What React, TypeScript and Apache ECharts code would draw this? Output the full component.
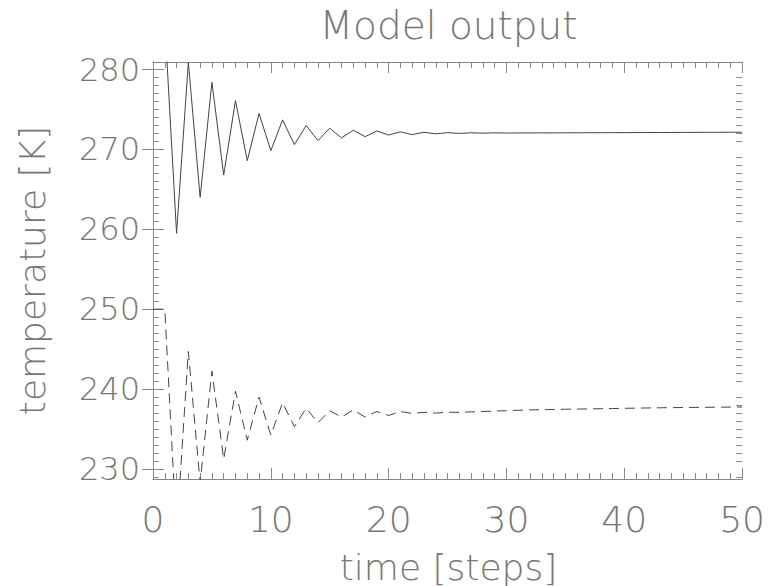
import React, { useEffect, useRef } from "react";
import * as echarts from "echarts";

const steps: number[] = [
  0, 1, 2, 3, 4, 5, 6, 7, 8, 9, 10, 11, 12, 13, 14, 15, 16, 17, 18, 19, 20,
  21, 22, 23, 24, 25, 26, 27, 28, 29, 30, 31, 32, 33, 34, 35, 36, 37, 38, 39, 40,
  41, 42, 43, 44, 45, 46, 47, 48, 49, 50,
];

const surfaceTemp: number[] = [
  290, 286, 259.5, 280.9, 264, 278.4, 266.8, 276.1, 268.6, 274.5, 269.85,
  273.7, 270.6, 273.0, 271.1, 272.65, 271.45, 272.4, 271.6, 272.3, 271.8,
  272.2, 271.85, 272.15, 271.95, 272.1, 272.0, 272.08, 272.03, 272.07, 272.05,
  272.06, 272.06, 272.07, 272.07, 272.08, 272.08, 272.09, 272.09, 272.1, 272.1,
  272.11, 272.11, 272.12, 272.12, 272.13, 272.13, 272.14, 272.14, 272.15, 272.15,
];

const atmosTemp: number[] = [
  250, 250, 222, 244.7, 228.3, 242.25, 231.25, 239.75, 233.6, 239.0, 234.25,
  238.3, 235.3, 237.6, 235.8, 237.3, 236.5, 237.4, 236.5, 237.2, 236.7,
  237.2, 236.95, 237.1, 237.0, 237.1, 237.1, 237.15, 237.2, 237.25, 237.3,
  237.35, 237.4, 237.42, 237.45, 237.48, 237.5, 237.52, 237.55, 237.57, 237.6,
  237.62, 237.64, 237.66, 237.68, 237.7, 237.71, 237.72, 237.74, 237.75, 237.76,
];

const yMajorTicks: number[] = [230, 240, 250, 260, 270, 280];
const yMinorTicks: number[] = [
  229, 231, 232, 233, 234, 235, 236, 237, 238, 239, 241, 242, 243, 244, 245,
  246, 247, 248, 249, 251, 252, 253, 254, 255, 256, 257, 258, 259, 261, 262,
  263, 264, 265, 266, 267, 268, 269, 271, 272, 273, 274, 275, 276, 277, 278,
  279,
];

const Y_MIN = 228.75;
const Y_MAX = 280.94;
const X_MIN = 0;
const X_MAX = 50;

const TITLE = "Model output";
const X_NAME = "time [steps]";
const Y_NAME = "temperature [K]";

const FONT = "DejaVu Sans";
const TEXT_COLOR = "#777";
const AXIS_COLOR = "#888";
const LINE_COLOR = "#444";

const GRID = { left: 153, top: 62, width: 591, height: 417 };

export default function App() {
  const ref = useRef<HTMLDivElement>(null);

  useEffect(() => {
    if (!ref.current) return;
    const chart = echarts.init(ref.current, undefined, { renderer: "svg" });

    const axisLine = { show: true, lineStyle: { color: AXIS_COLOR, width: 1 } };
    const xCommon = {
      type: "value" as const,
      min: X_MIN,
      max: X_MAX,
      interval: 10,
      splitLine: { show: false },
      axisLine,
      axisTick: { show: true, inside: true, length: 11, lineStyle: { color: AXIS_COLOR } },
      minorTick: { show: true, splitNumber: 10, length: 6, lineStyle: { color: AXIS_COLOR } },
      minorSplitLine: { show: false },
    };

    const yMajor = (position: "left" | "right", showLabel: boolean) => ({
      type: "value" as const,
      position,
      min: Y_MIN,
      max: Y_MAX,
      splitLine: { show: false },
      axisLine,
      axisTick: {
        show: true,
        inside: true,
        length: 11,
        customValues: yMajorTicks,
        lineStyle: { color: AXIS_COLOR },
      },
      axisLabel: {
        show: showLabel,
        customValues: yMajorTicks,
        fontFamily: FONT,
        fontWeight: 200,
        fontSize: 32,
        color: TEXT_COLOR,
        margin: 13,
      },
    });

    const yMinor = (position: "left" | "right") => ({
      type: "value" as const,
      position,
      min: Y_MIN,
      max: Y_MAX,
      splitLine: { show: false },
      axisLine: { show: false },
      axisTick: {
        show: true,
        inside: true,
        length: 6,
        customValues: yMinorTicks,
        lineStyle: { color: AXIS_COLOR },
      },
      axisLabel: { show: false },
    });

    chart.setOption({
      animation: false,
      backgroundColor: "#fff",
      grid: { ...GRID, containLabel: false },
      xAxis: [
        {
          ...xCommon,
          position: "bottom",
          axisLabel: {
            show: true,
            fontFamily: FONT,
            fontWeight: 200,
            fontSize: 36,
            color: TEXT_COLOR,
            margin: 22,
          },
        },
        {
          ...xCommon,
          position: "top",
          axisLabel: { show: false },
        },
      ],
      yAxis: [yMajor("left", true), yMajor("right", false), yMinor("left"), yMinor("right")],
      graphic: [
        {
          type: "text",
          x: GRID.left + GRID.width / 2,
          y: 25,
          style: {
            text: TITLE,
            fontFamily: FONT,
            fontWeight: 200,
            fontSize: 39,
            fill: TEXT_COLOR,
            textAlign: "center",
            textVerticalAlign: "middle",
          },
        },
        {
          type: "text",
          x: GRID.left + GRID.width / 2,
          y: 567,
          style: {
            text: X_NAME,
            fontFamily: FONT,
            fontWeight: 200,
            fontSize: 36,
            fill: TEXT_COLOR,
            textAlign: "center",
            textVerticalAlign: "middle",
          },
        },
        {
          type: "text",
          x: 32,
          y: GRID.top + GRID.height / 2,
          rotation: Math.PI / 2,
          style: {
            text: Y_NAME,
            fontFamily: FONT,
            fontWeight: 200,
            fontSize: 36,
            fill: TEXT_COLOR,
            textAlign: "center",
            textVerticalAlign: "middle",
          },
        },
      ],
      series: [
        {
          type: "line",
          xAxisIndex: 0,
          yAxisIndex: 0,
          data: steps.map((s, i) => [s, surfaceTemp[i]]),
          showSymbol: false,
          symbol: "none",
          clip: true,
          lineStyle: { color: LINE_COLOR, width: 1 },
        },
        {
          type: "line",
          xAxisIndex: 0,
          yAxisIndex: 0,
          data: steps.map((s, i) => [s, atmosTemp[i]]),
          showSymbol: false,
          symbol: "none",
          clip: true,
          lineStyle: { color: LINE_COLOR, width: 1, type: [10, 6] },
        },
      ],
    });

    return () => chart.dispose();
  }, []);

  return (
    <div
      ref={ref}
      style={{ position: "fixed", left: 0, top: 0, width: 768, height: 586 }}
    />
  );
}
